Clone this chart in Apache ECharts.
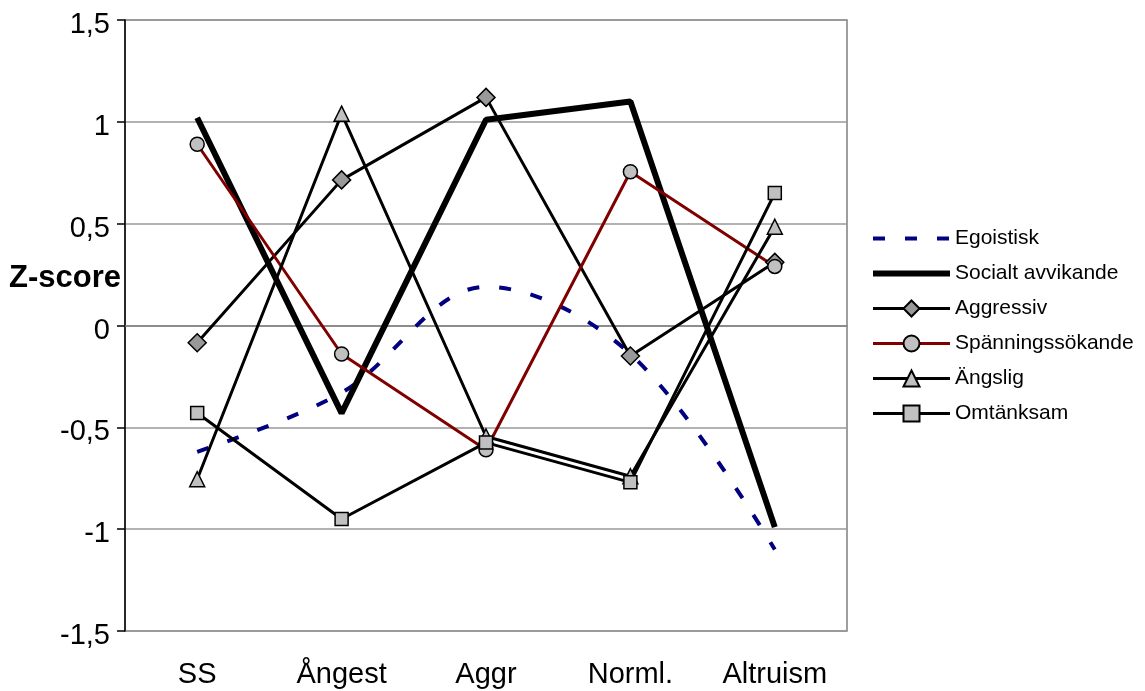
<!DOCTYPE html>
<html>
<head>
<meta charset="utf-8">
<script src="https://cdn.jsdelivr.net/npm/echarts@6/dist/echarts.min.js"></script>
<style>
  html, body { margin: 0; padding: 0; background: #fff; }
  #chart { width: 1145px; height: 691px; }
</style>
</head>
<body>
<div id="chart"></div>
<script>
const categories = ['SS', 'Ångest', 'Aggr', 'Norml.', 'Altruism']
const yTicks = { min: -1.5, max: 1.5, interval: 0.5 }

const egoistisk = [-0.62, -0.33, 0.19, -0.14, -1.1]
const socialtAvvikande = [1.02, -0.43, 1.01, 1.1, -0.99]
const aggressiv = [-0.085, 0.715, 1.12, -0.15, 0.31]
const spanningssokande = [0.89, -0.14, -0.61, 0.755, 0.29]
const angslig = [-0.755, 1.04, -0.545, -0.74, 0.485]
const omtanksam = [-0.43, -0.95, -0.575, -0.77, 0.65]

const FONT = '"Liberation Sans", Arial, sans-serif'
const DASH = [12, 20]
const chart = echarts.init(document.getElementById('chart'))

const markerLine = (name, data, symbol, size, fill, color) => ({
  name,
  type: 'line',
  data,
  symbol,
  symbolSize: size,
  showSymbol: true,
  lineStyle: { color: color || '#000', width: 3 },
  itemStyle: { color: fill, borderColor: '#000', borderWidth: 1.5 },
  emphasis: { disabled: true }
})

// legend entries: lines without markers hide the symbol
const legendItem = (name, width, type, noSymbol) => ({
  name,
  lineStyle: { width, type: type || 'solid' },
  itemStyle: noSymbol ? { opacity: 0 } : undefined
})

chart.setOption({
  animation: false,
  grid: { left: 125, top: 20, width: 722, height: 611, show: true, borderColor: '#808080', borderWidth: 1.5 },
  legend: {
    orient: 'vertical',
    left: 865,
    top: 223,
    itemWidth: 77,
    itemHeight: 20,
    itemGap: 14,
    textStyle: { fontFamily: FONT, fontSize: 21, color: '#000' },
    data: [
      legendItem('Egoistisk', 4, DASH, true),
      legendItem('Socialt avvikande', 6, 'solid', true),
      legendItem('Aggressiv', 3),
      legendItem('Spänningssökande', 3),
      legendItem('Ängslig', 3),
      legendItem('Omtänksam', 3)
    ]
  },
  xAxis: {
    type: 'category',
    data: categories,
    boundaryGap: true,
    axisLine: { lineStyle: { color: '#808080', width: 1.5 } },
    axisTick: { show: false },
    axisLabel: { fontFamily: FONT, fontSize: 29, color: '#000', margin: 29 }
  },
  yAxis: {
    type: 'value',
    min: yTicks.min,
    max: yTicks.max,
    interval: yTicks.interval,
    axisLine: { show: true, lineStyle: { color: '#000', width: 1.5 } },
    axisTick: { show: true, length: 8, lineStyle: { color: '#000', width: 1.5 } },
    splitLine: { lineStyle: { color: '#999', width: 1.5 } },
    axisLabel: {
      fontFamily: FONT, fontSize: 29, color: '#000', margin: 15,
      formatter: (v) => '{t|' + String(v).replace('.', ',') + '}',
      rich: { t: { fontFamily: FONT, fontSize: 29, color: '#000', padding: [10, 0, 0, 0] } }
    }
  },
  graphic: [{
    type: 'text',
    left: 9,
    top: 263,
    style: { text: 'Z-score', font: 'bold 31px ' + FONT, fill: '#000' }
  }],
  series: [
    {
      name: 'Egoistisk',
      type: 'line',
      data: egoistisk,
      smooth: 0.35,
      symbol: 'none',
      lineStyle: { color: '#000080', width: 4, type: DASH },
      itemStyle: { color: '#000080' },
      emphasis: { disabled: true }
    },
    {
      name: 'Socialt avvikande',
      type: 'line',
      data: socialtAvvikande,
      symbol: 'none',
      lineStyle: { color: '#000', width: 6 },
      itemStyle: { color: '#000' },
      emphasis: { disabled: true }
    },
    markerLine('Aggressiv', aggressiv, 'diamond', 18, '#999999'),
    markerLine('Spänningssökande', spanningssokande, 'circle', 14, '#c0c0c0', '#800000'),
    markerLine('Ängslig', angslig, 'triangle', 15, '#c0c0c0'),
    markerLine('Omtänksam', omtanksam, 'rect', 13, '#c0c0c0')
  ]
})
</script>
</body>
</html>
